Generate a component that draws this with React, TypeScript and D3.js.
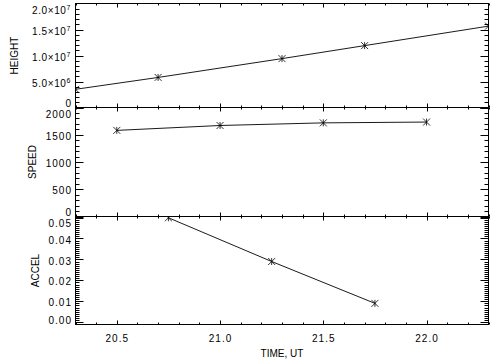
import React, { useEffect, useRef } from "react";
import * as d3 from "d3";

// time axis (UT hours)
const timeDomain = [20.3, 22.3];
const timeTicks = [20.5, 21.0, 21.5, 22.0];

// height samples
const heightTimes = [20.3, 20.7, 21.3, 21.7, 22.3];
const heightValues = [3.5e6, 5.78e6, 9.4e6, 1.19e7, 1.565e7];
const heightTicks = [0, 5e6, 1e7, 1.5e7, 2e7];
const heightTickLabels = [["0", ""], ["5.0×10", "6"], ["1.0×10", "7"], ["1.5×10", "7"], ["2.0×10", "7"]];

// speed samples (midpoints)
const speedTimes = [20.5, 21.0, 21.5, 22.0];
const speedValues = [1580, 1670, 1718, 1733];
const speedTicks = [0, 500, 1000, 1500, 2000];

// accel samples
const accelTimes = [20.75, 21.25, 21.75];
const accelValues = [0.0499, 0.029, 0.009];
const accelTicks = [0, 0.01, 0.02, 0.03, 0.04, 0.05];

const App = () => {
  const svgRef = useRef(null);

  useEffect(() => {
    const svg = d3.select(svgRef.current);
    svg.selectAll("*").remove();

    const left = 75.5;
    const right = 488.5;
    const font = "'Liberation Sans', Arial, Helvetica, sans-serif";

    const x = d3.scaleLinear().domain(timeDomain).range([left, right]);

    const panels = [
      {
        id: "h", top: 3.5, bottom: 107.5, domain: [0, 2e7], ticks: heightTicks,
        minorStep: 1e6, minorFrom: 0, times: heightTimes, values: heightValues,
        title: "HEIGHT", titleX: 14,
        fmt: (i) => heightTickLabels[i],
      },
      {
        id: "s", top: 107.5, bottom: 216.5, domain: [0, 2000], ticks: speedTicks,
        minorStep: 100, minorFrom: 0, times: speedTimes, values: speedValues,
        title: "SPEED", titleX: 32,
        fmt: (i) => [String(speedTicks[i]), ""],
      },
      {
        id: "a", top: 216.5, bottom: 324.5, domain: [-0.0011, 0.0505], ticks: accelTicks,
        minorStep: 0.001, minorFrom: -0.001, times: accelTimes, values: accelValues,
        title: "ACCEL", titleX: 35.5,
        fmt: (i) => [accelTicks[i].toFixed(2), ""],
      },
    ];

    const defs = svg.append("defs");

    panels.forEach((p) => {
      const y = d3.scaleLinear().domain(p.domain).range([p.bottom, p.top]);
      const g = svg.append("g");

      defs.append("clipPath").attr("id", "clip-" + p.id)
        .append("rect")
        .attr("x", left).attr("y", p.top)
        .attr("width", right - left).attr("height", p.bottom - p.top);

      // box
      g.append("rect")
        .attr("x", left).attr("y", p.top)
        .attr("width", right - left).attr("height", p.bottom - p.top)
        .attr("fill", "none").attr("stroke", "#000").attr("stroke-width", 1);

      // x ticks on top and bottom, pointing inward
      const xMinor = d3.range(20.3, 22.3001, 0.1);
      xMinor.forEach((t) => {
        const isMajor = timeTicks.some((m) => Math.abs(m - t) < 1e-6);
        const len = isMajor ? 4 : 2;
        const xx = Math.round(x(t)) + 0.5;
        g.append("line").attr("x1", xx).attr("x2", xx)
          .attr("y1", p.bottom).attr("y2", p.bottom - len)
          .attr("stroke", "#000");
        g.append("line").attr("x1", xx).attr("x2", xx)
          .attr("y1", p.top).attr("y2", p.top + len)
          .attr("stroke", "#000");
      });

      // y ticks left & right
      const yMinor = d3.range(p.minorFrom, p.domain[1] + 1e-12, p.minorStep)
        .filter((v) => v >= p.domain[0] && v <= p.domain[1]);
      yMinor.forEach((v) => {
        const isMajor = p.ticks.some((m) => Math.abs(m - v) < p.minorStep / 10);
        const len = isMajor ? 8 : 4;
        const yy = Math.round(y(v)) + 0.5;
        g.append("line").attr("x1", left).attr("x2", left + len)
          .attr("y1", yy).attr("y2", yy).attr("stroke", "#000");
        g.append("line").attr("x1", right).attr("x2", right - len)
          .attr("y1", yy).attr("y2", yy).attr("stroke", "#000");
      });

      // y tick labels (kept inside the panel span)
      p.ticks.forEach((v, i) => {
        const cy = Math.min(Math.max(y(v) + 1.5, p.top + 6.5), p.bottom - 4.5);
        const [main, sup] = p.fmt(i);
        const txt = svg.append("text")
          .attr("x", sup ? 71 : 72).attr("y", cy + 3.6)
          .attr("text-anchor", "end")
          .attr("font-family", font).attr("font-size", 10)
          .attr("letter-spacing", sup ? 0.6 : 1)
          .attr("fill", "#000");
        txt.append("tspan").text(main);
        if (sup) {
          txt.append("tspan").attr("dy", -4).attr("font-size", 7).text(sup);
        }
      });

      // title
      svg.append("text")
        .attr("transform", `translate(${p.titleX},${(p.top + p.bottom) / 2}) rotate(-90)`)
        .attr("text-anchor", "middle").attr("dy", "0.36em")
        .attr("font-family", font).attr("font-size", 10)
        .attr("fill", "#000")
        .text(p.title);

      // data
      const pts = p.times.map((t, i) => [x(t), y(p.values[i])]);
      const plot = svg.append("g").attr("clip-path", `url(#clip-${p.id})`);
      plot.append("path")
        .attr("d", d3.line()(pts))
        .attr("fill", "none").attr("stroke", "#000").attr("stroke-width", 0.9);

      pts.forEach(([px, py]) => {
        const s = 3.5;
        plot.append("path")
          .attr("d", `M${px - s},${py - s}L${px + s},${py + s}M${px - s},${py + s}L${px + s},${py - s}M${px},${py - s}L${px},${py + s}`)
          .attr("stroke", "#000").attr("stroke-width", 0.8).attr("fill", "none");
      });
    });

    // x tick labels
    timeTicks.forEach((t) => {
      svg.append("text")
        .attr("x", x(t) + 0.5).attr("y", 342)
        .attr("text-anchor", "middle")
        .attr("font-family", font).attr("font-size", 10)
        .attr("letter-spacing", 1)
        .attr("fill", "#000")
        .text(t.toFixed(1));
    });

    svg.append("text")
      .attr("x", (left + right) / 2).attr("y", 357)
      .attr("text-anchor", "middle")
      .attr("font-family", font).attr("font-size", 10)
      .attr("fill", "#000")
      .text("TIME, UT");
  }, []);

  return (
    <svg
      ref={svgRef}
      width={504}
      height={360}
      viewBox="0 0 504 360"
      style={{ position: "absolute", left: 0, top: 0, backgroundColor: "#fff" }}
    ></svg>
  );
};

export default App;
